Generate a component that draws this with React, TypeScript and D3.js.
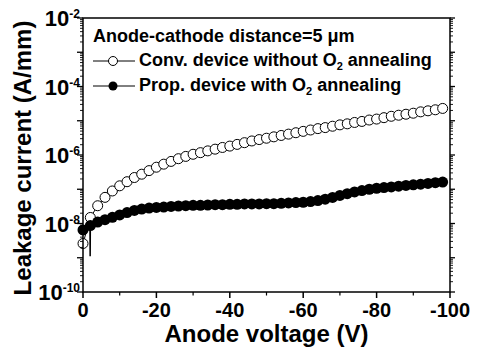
import React from 'react';
import * as d3 from 'd3';

// anode voltage (V), every 2 V
const voltage = [
  0, -2, -4, -6, -8, -10, -12, -14, -16, -18, -20, -22, -24, -26, -28, -30, -32, -34, -36, -38,
  -40, -42, -44, -46, -48, -50, -52, -54, -56, -58, -60, -62, -64, -66, -68, -70, -72, -74, -76, -78,
  -80, -82, -84, -86, -88, -90, -92, -94, -96, -98,
];

// conventional device, no O2 annealing (A/mm)
const convCurrent = [
  2.6e-9, 1.5e-8, 3.3e-8, 5.8e-8, 8.9e-8, 1.26e-7, 1.66e-7, 2.2e-7, 2.75e-7, 3.5e-7,
  4.4e-7, 5.4e-7, 6.5e-7, 7.8e-7, 9.1e-7, 1.05e-6, 1.17e-6, 1.32e-6, 1.48e-6, 1.66e-6,
  1.82e-6, 2.04e-6, 2.29e-6, 2.57e-6, 2.82e-6, 3.09e-6, 3.39e-6, 3.72e-6, 4.07e-6, 4.47e-6,
  4.9e-6, 5.37e-6, 5.89e-6, 6.31e-6, 6.92e-6, 7.59e-6, 8.13e-6, 8.91e-6, 9.55e-6, 1.05e-5,
  1.12e-5, 1.23e-5, 1.35e-5, 1.45e-5, 1.55e-5, 1.66e-5, 1.82e-5, 1.95e-5, 2.09e-5, 2.29e-5,
];

// proposed device, with O2 annealing (A/mm)
const propCurrent = [
  6.5e-9, 8.7e-9, 1.1e-8, 1.29e-8, 1.51e-8, 1.78e-8, 2.09e-8, 2.4e-8, 2.63e-8, 2.82e-8,
  2.95e-8, 3.02e-8, 3.16e-8, 3.24e-8, 3.31e-8, 3.39e-8, 3.39e-8, 3.47e-8, 3.55e-8, 3.55e-8,
  3.63e-8, 3.63e-8, 3.72e-8, 3.72e-8, 3.72e-8, 3.8e-8, 3.8e-8, 3.89e-8, 3.98e-8, 4.07e-8,
  4.17e-8, 4.37e-8, 4.68e-8, 5.13e-8, 5.75e-8, 6.61e-8, 7.41e-8, 8.32e-8, 9.12e-8, 1.0e-7,
  1.07e-7, 1.12e-7, 1.17e-7, 1.23e-7, 1.29e-7, 1.35e-7, 1.41e-7, 1.48e-7, 1.55e-7, 1.62e-7,
];

// measurement glitch on the proposed device trace (line only, no markers)
const propGlitchV = [-1.9, -1.95];
const propGlitchI = [7.5e-9, 1.1e-9];

const xTicks = [0, -20, -40, -60, -80, -100];
const xMinorTicks = [-10, -30, -50, -70, -90];
const yLabelExps = [-2, -4, -6, -8, -10];

const W = 478;
const H = 352;
const M = { left: 83, right: 28, top: 18, bottom: 60 };
const FONT = '"Liberation Sans", Arial, sans-serif';

const App: React.FC = () => {
  const x = d3.scaleLinear().domain([0, -100]).range([M.left, W - M.right]);
  const y = d3.scaleLog().domain([1e-10, 1e-2]).range([H - M.bottom, M.top]);
  const x0 = x.range()[0];
  const x1 = x.range()[1];
  const y0 = y.range()[0];
  const y1 = y.range()[1];

  // log ticks: decades + 2..9 minors
  const decades = d3.range(-10, -1).map((e) => Math.pow(10, e));
  const minors: number[] = [];
  decades.slice(0, -1).forEach((d) => {
    for (let k = 2; k <= 9; k++) minors.push(d * k);
  });

  const line = d3
    .line<[number, number]>()
    .x((d) => x(d[0]))
    .y((d) => y(d[1]));

  const convPts: [number, number][] = voltage.map((v, i) => [v, convCurrent[i]]);
  const propPts: [number, number][] = voltage.map((v, i) => [v, propCurrent[i]]);
  // the glitch only shows up in the connecting line
  const propLinePts: [number, number][] = [
    ...propPts,
    ...propGlitchV.map((v, i) => [v, propGlitchI[i]] as [number, number]),
  ].sort((a, b) => b[0] - a[0]);

  const legendX = 93;
  const row1 = 61;
  const row2 = 86;

  return (
    <div style={{ position: 'absolute', left: 0, top: 0 }}>
      <svg width={W} height={H} style={{ display: 'block', background: '#fff' }} fontFamily={FONT}>
        {/* series: open first, filled on top */}
        <path d={line(convPts) || undefined} fill="none" stroke="#000" strokeWidth={1} />
        {convPts.map((d, i) => (
          <circle key={`c${i}`} cx={x(d[0])} cy={y(d[1])} r={5} fill="#fff" stroke="#000" strokeWidth={1} />
        ))}
        <path d={line(propLinePts) || undefined} fill="none" stroke="#000" strokeWidth={1.5} />
        {propPts.map((d, i) => (
          <circle key={`p${i}`} cx={x(d[0])} cy={y(d[1])} r={5.5} fill="#000" />
        ))}

        {/* frame */}
        <rect x={x0} y={y1} width={x1 - x0} height={y0 - y1} fill="none" stroke="#000" strokeWidth={1.5} />

        {/* x ticks */}
        {xTicks.map((t) => (
          <line key={`xt${t}`} x1={x(t)} x2={x(t)} y1={y0} y2={y0 + 6} stroke="#000" strokeWidth={1.5} />
        ))}
        {xMinorTicks.map((t) => (
          <line key={`xm${t}`} x1={x(t)} x2={x(t)} y1={y0} y2={y0 + 3.5} stroke="#000" strokeWidth={1.2} />
        ))}
        {xTicks.map((t) => (
          <text key={`xl${t}`} x={x(t)} y={317} textAnchor="middle" fontSize={20} fontWeight="bold">
            {t === 0 ? '0' : `-${Math.abs(t)}`}
          </text>
        ))}

        {/* y ticks, left and right */}
        {decades.map((d) => (
          <g key={`yd${d}`}>
            <line x1={x0 - 6} x2={x0} y1={y(d)} y2={y(d)} stroke="#000" strokeWidth={1.3} />
            <line x1={x1} x2={x1 + 5} y1={y(d)} y2={y(d)} stroke="#000" strokeWidth={1.3} />
          </g>
        ))}
        {minors.map((d) => (
          <g key={`ym${d}`}>
            <line x1={x0 - 3} x2={x0} y1={y(d)} y2={y(d)} stroke="#000" strokeWidth={0.9} />
            <line x1={x1} x2={x1 + 3} y1={y(d)} y2={y(d)} stroke="#000" strokeWidth={0.9} />
          </g>
        ))}
        {yLabelExps.map((e) => (
          <text key={`yl${e}`} x={80} y={y(Math.pow(10, e)) + 8} textAnchor="end" fontWeight="bold">
            <tspan fontSize={22}>10</tspan>
            <tspan fontSize={12} dy={-8}>{e}</tspan>
          </text>
        ))}

        {/* axis titles */}
        <text x={(x0 + x1) / 2} y={342} textAnchor="middle" fontSize={24} fontWeight="bold">
          Anode voltage (V)
        </text>
        <text
          transform={`translate(31,${(y0 + y1) / 2 + 3}) rotate(-90)`}
          textAnchor="middle"
          fontSize={24}
          fontWeight="bold"
        >
          Leakage current (A/mm)
        </text>

        {/* legend */}
        <text x={legendX} y={42} fontSize={18} fontWeight="bold">
          Anode-cathode distance=5 μm
        </text>
        <line x1={legendX} x2={legendX + 42} y1={row1} y2={row1} stroke="#000" strokeWidth={1} />
        <circle cx={legendX + 20} cy={row1} r={4.5} fill="#fff" stroke="#000" strokeWidth={1} />
        <text x={legendX + 46} y={row1 + 5} fontSize={18} fontWeight="bold">
          Conv. device without O<tspan fontSize={11} dy={4}>2</tspan>
          <tspan dy={-4}> annealing</tspan>
        </text>
        <line x1={legendX} x2={legendX + 42} y1={row2} y2={row2} stroke="#000" strokeWidth={1} />
        <circle cx={legendX + 20} cy={row2} r={4.5} fill="#000" />
        <text x={legendX + 46} y={row2 + 5} fontSize={18} fontWeight="bold">
          Prop. device with O<tspan fontSize={11} dy={4}>2</tspan>
          <tspan dy={-4}> annealing</tspan>
        </text>
      </svg>
    </div>
  );
};

export default App;
